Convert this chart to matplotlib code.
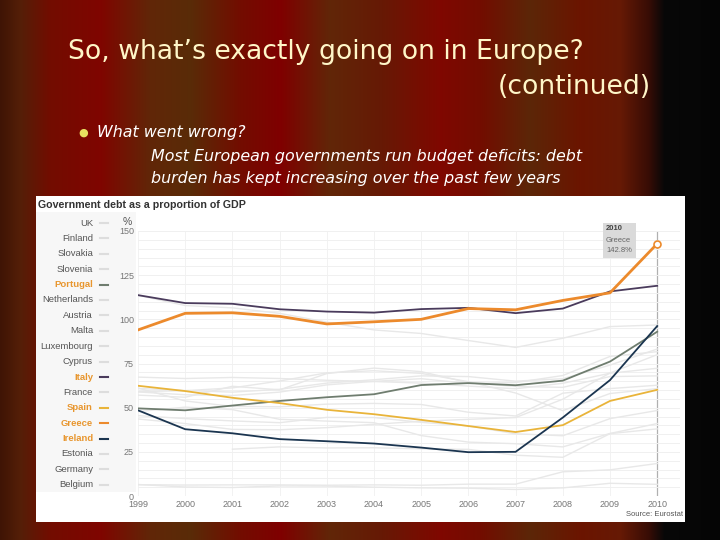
import numpy as np
import matplotlib
matplotlib.use("Agg")
import matplotlib.pyplot as plt
from matplotlib.patches import Rectangle

# government debt, % of GDP (Eurostat), 1999-2010
years = list(range(1999, 2011))
countries = ["UK", "Finland", "Slovakia", "Slovenia", "Portugal", "Netherlands",
             "Austria", "Malta", "Luxembourg", "Cyprus", "Italy", "France",
             "Spain", "Greece", "Ireland", "Estonia", "Germany", "Belgium"]
debt = {
    "UK":          [43.6, 41.0, 37.7, 37.5, 38.7, 40.6, 42.3, 43.4, 44.4, 54.8, 69.6, 80.0],
    "Finland":     [45.5, 43.8, 42.5, 41.5, 44.5, 44.4, 41.7, 39.7, 35.2, 34.1, 43.8, 48.4],
    "Slovakia":    [47.8, 50.3, 48.9, 43.4, 42.4, 41.5, 34.2, 30.5, 29.6, 27.8, 35.4, 41.0],
    "Slovenia":    [None, None, 26.5, 27.8, 27.2, 27.3, 26.7, 26.4, 23.1, 21.9, 35.3, 38.0],
    "Portugal":    [49.6, 48.5, 51.2, 53.8, 55.9, 57.6, 62.8, 63.9, 62.7, 65.3, 76.1, 93.0],
    "Netherlands": [61.1, 53.8, 50.7, 50.5, 52.0, 52.4, 51.8, 47.4, 45.3, 58.2, 60.8, 62.7],
    "Austria":     [67.3, 66.5, 67.1, 66.5, 65.5, 64.8, 63.9, 62.2, 60.7, 63.8, 69.5, 72.3],
    "Malta":       [57.1, 55.9, 62.1, 60.1, 69.3, 72.4, 70.4, 64.2, 62.0, 61.5, 67.6, 68.0],
    "Luxembourg":  [6.4, 6.2, 6.3, 6.3, 6.1, 6.3, 6.1, 6.7, 6.7, 13.7, 14.8, 18.4],
    "Cyprus":      [59.1, 59.6, 61.2, 65.1, 69.7, 70.9, 69.4, 64.7, 58.3, 48.3, 58.0, 60.8],
    "Italy":       [113.7, 109.2, 108.8, 105.7, 104.4, 103.8, 105.8, 106.5, 103.5, 106.1, 115.8, 119.0],
    "France":      [58.9, 57.3, 56.9, 58.8, 62.9, 64.9, 66.4, 63.7, 64.2, 68.2, 79.0, 81.7],
    "Spain":       [62.4, 59.4, 55.6, 52.6, 48.8, 46.3, 43.1, 39.6, 36.2, 40.1, 53.8, 60.1],
    "Greece":      [94.0, 103.4, 103.7, 101.7, 97.4, 98.6, 100.0, 106.1, 105.4, 110.7, 115.0, 142.8],
    "Ireland":     [48.5, 37.8, 35.5, 32.2, 31.0, 29.7, 27.4, 24.8, 25.0, 44.4, 65.6, 96.2],
    "Estonia":     [6.5, 5.1, 4.8, 5.7, 5.6, 5.0, 4.6, 4.4, 3.7, 4.6, 7.2, 6.6],
    "Germany":     [60.9, 59.7, 58.8, 60.4, 63.9, 65.8, 68.0, 67.6, 65.0, 66.4, 74.1, 83.2],
    "Belgium":     [113.6, 107.8, 106.5, 103.4, 98.4, 94.0, 92.0, 88.0, 84.1, 89.3, 95.9, 96.8],
}
highlight = {"Portugal": "#6f7d6f", "Italy": "#4a3b5c", "Spain": "#e9b43a",
             "Greece": "#ec8a2c", "Ireland": "#1b3550"}
yticks = [0, 25, 50, 75, 100, 125, 150]

W, H = 720, 540
fig = plt.figure(figsize=(7.2, 5.4), dpi=100)

def fx(x):
    return x / W

def fy(y):
    return 1 - y / H

# curtain background
bg = fig.add_axes([0, 0, 1, 1])
bg.set_zorder(-5)
bg.set_axis_off()
cx = [0, 20, 50, 100, 150, 190, 240, 280, 330, 380, 440, 480, 530, 580, 620, 648, 664, 720]
cr = [0.25, 0.33, 0.45, 0.50, 0.38, 0.35, 0.45, 0.50, 0.38, 0.40, 0.50, 0.45, 0.36, 0.42, 0.40, 0.22, 0.03, 0.02]
cg = [0.08, 0.12, 0.05, 0.02, 0.15, 0.17, 0.05, 0.00, 0.15, 0.10, 0.03, 0.05, 0.15, 0.08, 0.10, 0.05, 0.03, 0.02]
cb = [0.02, 0.03, 0.00, 0.00, 0.03, 0.03, 0.00, 0.00, 0.03, 0.02, 0.00, 0.00, 0.03, 0.00, 0.02, 0.02, 0.03, 0.02]
xs = np.arange(W)
row = np.stack([np.interp(xs, cx, cr), np.interp(xs, cx, cg), np.interp(xs, cx, cb)], axis=1)
img = np.repeat(row[None, :, :], H, axis=0)
bg.imshow(img, aspect="auto", extent=[0, 1, 0, 1])
bg.set_xlim(0, 1)
bg.set_ylim(0, 1)

# slide text
title_c = "#fff6c8"
fig.text(fx(68), fy(52), "So, what\u2019s exactly going on in Europe?", color=title_c,
         fontsize=19.2, family="DejaVu Sans", va="center", ha="left")
fig.text(fx(651), fy(87), "(continued)", color=title_c,
         fontsize=19.2, family="DejaVu Sans", va="center", ha="right")
fig.text(fx(83), fy(133), "\u25CF", color="#e8e060", fontsize=8, va="center", ha="center")
fig.text(fx(97), fy(133), "What went wrong?", color="white", fontsize=11.4,
         style="italic", family="DejaVu Sans", va="center")
fig.text(fx(151), fy(157), "Most European governments run budget deficits: debt", color="white",
         fontsize=11.4, style="italic", family="DejaVu Sans", va="center")
fig.text(fx(151), fy(178), "burden has kept increasing over the past few years", color="white",
         fontsize=11.4, style="italic", family="DejaVu Sans", va="center")

# chart image frame
fig.patches.append(Rectangle((fx(36), fy(522)), fx(649), 326 / H, transform=fig.transFigure,
                             facecolor="white", edgecolor="none", zorder=-3))
fig.patches.append(Rectangle((fx(36), fy(492)), fx(100), 280 / H, transform=fig.transFigure,
                             facecolor="#f7f7f7", edgecolor="none", zorder=-2))
fig.text(fx(38), fy(205), "Government debt as a proportion of GDP", color="#333333",
         fontsize=7.7, fontweight="bold", family="Liberation Sans", va="center")

# legend column
for i, c in enumerate(countries):
    y = 223 + i * 15.4
    if c in highlight:
        lc, sc, fw = "#e8962e", highlight[c], "bold"
    else:
        lc, sc, fw = "#555555", "#dddddd", "normal"
    fig.text(fx(93), fy(y), c, color=lc, fontsize=6.8, fontweight=fw,
             family="Liberation Sans", ha="right", va="center")
    fig.lines.append(plt.Line2D([fx(100), fx(108)], [fy(y), fy(y)], color=sc, lw=1.5,
                                transform=fig.transFigure))

# plot
ax = fig.add_axes([fx(138), fy(496), fx(680 - 138), (496 - 231) / H])
ax.set_zorder(1)
ax.set_facecolor("none")
ax.set_xlim(1999, 1999 + (680 - 138) / 47.2)
ax.set_ylim(0, 150)
for s in ax.spines.values():
    s.set_visible(False)
ax.grid(axis="y", color="#f0f0f0", lw=0.7)
for yr in years:
    ax.axvline(yr, color="#f2f2f2", lw=0.7, zorder=0)
ax.axvline(2010, color="#b0b0b0", lw=0.9, zorder=1)
ax.set_yticks(np.arange(0, 151, 5))
ax.set_yticklabels([str(v) if v in yticks else "" for v in np.arange(0, 151, 5)])
ax.set_xticks(years)
ax.set_xticklabels([str(y) for y in years])
ax.tick_params(length=0, labelsize=6.5, labelcolor="#777777", pad=3)
for lab in ax.get_xticklabels() + ax.get_yticklabels():
    lab.set_family("Liberation Sans")

for c in countries:
    if c in highlight:
        continue
    vals = [np.nan if v is None else v for v in debt[c]]
    ax.plot(years, vals, color="#e8e8e8", lw=1.0, zorder=2)
for c in ["Portugal", "Spain", "Ireland", "Italy", "Greece"]:
    lw = 2.0 if c == "Greece" else 1.3
    ax.plot(years, debt[c], color=highlight[c], lw=lw, zorder=3)
ax.plot([years[-1]], [debt["Greece"][-1]], "o", ms=5, mfc="white",
        mec=highlight["Greece"], mew=1.2, zorder=4, clip_on=False)

fig.text(fx(127), fy(222), "%", color="#555555", fontsize=7.5, family="Liberation Sans",
         ha="center", va="center")
fig.text(fx(683), fy(515), "Source: Eurostat", color="#555555", fontsize=5.5,
         family="Liberation Sans", ha="right", va="center")

# tooltip
fig.patches.append(Rectangle((fx(603), fy(258)), fx(33), 35 / H, transform=fig.transFigure,
                             facecolor="#dadada", edgecolor="none", zorder=5))
fig.text(fx(606), fy(229), "2010", color="#444444", fontsize=5.5, fontweight="bold",
         family="Liberation Sans", va="center", zorder=6)
fig.text(fx(606), fy(240), "Greece", color="#666666", fontsize=5.5,
         family="Liberation Sans", va="center", zorder=6)
fig.text(fx(606), fy(251), "%.1f%%" % debt["Greece"][-1], color="#666666", fontsize=5.5,
         family="Liberation Sans", va="center", zorder=6)

fig.savefig("out.png", dpi=100)
